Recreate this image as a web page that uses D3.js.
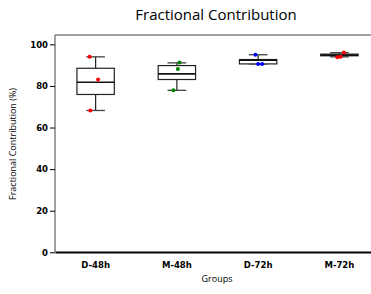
<!DOCTYPE html>
<html lang="en">
<head>
    <meta charset="UTF-8"/>
    <title>Fractional Contribution</title>
    <script src="https://d3js.org/d3.v7.min.js" charset="utf-8"></script>
    <style type="text/css">
        body { margin: 0; background: #fff; }
        .tick text { font-family: "DejaVu Sans", sans-serif; font-weight: bold; font-size: 8.5px; fill: #000; }
        .lbl { font-family: "Open Sans", sans-serif; fill: #000; }
    </style>
</head>
<body>
<div id="chart"></div>
<script type="text/javascript">

    // data
    var groups = ["D-48h", "M-48h", "D-72h", "M-72h"];
    var colors = ["#ff0000", "#008000", "#0000ff", "#ff0000"];
    var whiskLo = [68.2, 77.9, 90.6, 94.0];
    var q1      = [75.9, 83.1, 90.6, 94.5];
    var median  = [81.8, 85.8, 92.4, 94.8];
    var q3      = [88.5, 89.8, 92.7, 95.3];
    var whiskHi = [94.0, 91.1, 95.0, 96.0];
    var points = [
        [94.0, 83.1, 68.2],
        [91.3, 88.2, 77.9],
        [95.0, 90.6, 90.6],
        [96.1, 93.8, 94.0]
    ];
    var jitter = [
        [-0.074, 0.03, -0.065],
        [0.032, 0.012, -0.042],
        [-0.033, 0.0, 0.05],
        [0.055, -0.025, 0.015]
    ];
    var yTicks = [0, 20, 40, 60, 80, 100];

    var W = 371, H = 294;
    var margin = {top: 35, left: 55, bottom: 42},
        plotRight = 380,
        plotBottom = H - margin.bottom;

    var svg = d3.select("#chart").append("svg")
        .attr("width", W).attr("height", H);

    var x = d3.scaleBand().domain(groups).range([margin.left, plotRight]);
    var y = d3.scaleLinear().domain([0, 104.5]).range([plotBottom + 0.3, margin.top]);
    var bw = x.bandwidth();
    var cx = function (i) { return x(groups[i]) + bw / 2; };

    // spines
    svg.append("line").attr("x1", margin.left).attr("x2", plotRight)
        .attr("y1", margin.top).attr("y2", margin.top)
        .attr("stroke", "#808080").attr("stroke-width", 1.5);
    svg.append("line").attr("x1", margin.left).attr("x2", margin.left)
        .attr("y1", margin.top).attr("y2", plotBottom)
        .attr("stroke", "#808080").attr("stroke-width", 1.5);

    // y axis
    var yAxis = svg.append("g")
        .attr("transform", "translate(" + margin.left + ",0)")
        .call(d3.axisLeft(y).tickValues(yTicks).tickSize(5).tickPadding(2));
    yAxis.select(".domain").remove();
    yAxis.selectAll(".tick line").attr("stroke", "#000").attr("stroke-width", 1);

    // x axis
    var xAxis = svg.append("g")
        .attr("transform", "translate(0," + plotBottom + ")")
        .call(d3.axisBottom(x).tickSize(0).tickPadding(10));
    xAxis.select(".domain").attr("stroke", "#000").attr("stroke-width", 2);

    // boxes
    var boxW = bw * 0.46, capW = boxW / 2;
    var g = svg.append("g").selectAll("g").data(groups).enter().append("g");

    g.append("line")
        .attr("x1", function (d, i) { return cx(i); })
        .attr("x2", function (d, i) { return cx(i); })
        .attr("y1", function (d, i) { return y(whiskHi[i]); })
        .attr("y2", function (d, i) { return y(q3[i]); })
        .attr("stroke", "#222").attr("stroke-width", 1.2);
    g.append("line")
        .attr("x1", function (d, i) { return cx(i); })
        .attr("x2", function (d, i) { return cx(i); })
        .attr("y1", function (d, i) { return y(q1[i]); })
        .attr("y2", function (d, i) { return y(whiskLo[i]); })
        .attr("stroke", "#222").attr("stroke-width", 1.2);
    [whiskHi, whiskLo].forEach(function (arr) {
        g.append("line")
            .attr("x1", function (d, i) { return cx(i) - capW / 2; })
            .attr("x2", function (d, i) { return cx(i) + capW / 2; })
            .attr("y1", function (d, i) { return y(arr[i]); })
            .attr("y2", function (d, i) { return y(arr[i]); })
            .attr("stroke", "#444").attr("stroke-width", 1.3);
    });
    g.append("rect")
        .attr("x", function (d, i) { return cx(i) - boxW / 2; })
        .attr("y", function (d, i) { return y(q3[i]); })
        .attr("width", boxW)
        .attr("height", function (d, i) { return y(q1[i]) - y(q3[i]); })
        .attr("fill", "#fff").attr("stroke", "#222").attr("stroke-width", 1.2);
    g.append("line")
        .attr("x1", function (d, i) { return cx(i) - boxW / 2; })
        .attr("x2", function (d, i) { return cx(i) + boxW / 2; })
        .attr("y1", function (d, i) { return y(median[i]); })
        .attr("y2", function (d, i) { return y(median[i]); })
        .attr("stroke", "#111").attr("stroke-width", 1.6);

    // points
    g.each(function (d, i) {
        d3.select(this).selectAll("circle").data(points[i]).enter().append("circle")
            .attr("cx", function (v, j) { return cx(i) + jitter[i][j] * bw; })
            .attr("cy", function (v) { return y(v); })
            .attr("r", 2)
            .attr("fill", colors[i]);
    });

    // labels
    svg.append("text").attr("class", "lbl")
        .attr("x", 216).attr("y", 20)
        .attr("text-anchor", "middle").attr("font-size", "15px")
        .text("Fractional Contribution");
    svg.append("text").attr("class", "lbl")
        .attr("x", 217).attr("y", 282)
        .attr("text-anchor", "middle").attr("font-size", "9px")
        .text("Groups");
    svg.append("text").attr("class", "lbl")
        .attr("transform", "translate(16,144) rotate(-90)")
        .attr("text-anchor", "middle").attr("font-size", "9px")
        .text("Fractional Contribution (%)");
</script>
</body>
</html>
